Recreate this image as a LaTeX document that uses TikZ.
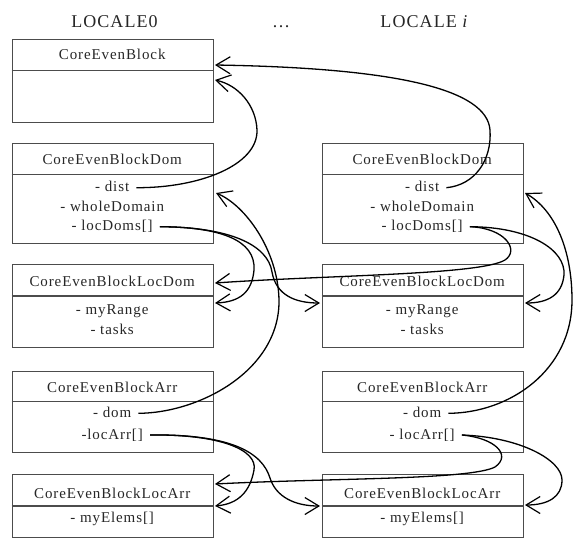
\documentclass[tikz,border=0pt]{standalone}
\usepackage{fontspec}
\setmainfont{Liberation Serif}[LetterSpace=6]
\usetikzlibrary{arrows.meta}
\begin{document}
\begin{tikzpicture}[x=1pt,y=-1pt,
  box/.style={draw=black!70, line width=1.1pt, minimum width=201pt, inner sep=0pt, anchor=north west},
  sep/.style={draw=black!70, line width=1.1pt},
  txt/.style={font=\fontsize{15}{18}\selectfont, text=black!85, inner xsep=7pt, inner ysep=0pt, text height=11pt, text depth=3pt},
  hdr/.style={font=\fontsize{18}{22}\selectfont, text=black!85, inner sep=0pt, anchor=base},
  conn/.style={draw=black, line width=1.3pt, -{Straight Barb[length=14pt,width=17pt,line width=1.2pt]}},
]
\useasboundingbox (0,0) rectangle (573,538);

% headers
\node[hdr] (h0) at (114.5,27.5) {LOCALE0};
\node[hdr] (hd) at (281,27.5) {\dots};
\node[hdr] (hi) at (424.5,27.5) {LOCALE \textit{i}};

% ---- boxes ----
\node[box, minimum height=83pt]   (blkL) at (11.7,39.3) {};
\node[box, minimum height=100pt]  (domL) at (11.7,143.3) {};
\node[box, minimum height=100pt]  (domR) at (321.7,143.3) {};
\node[box, minimum height=82.4pt] (ldmL) at (11.7,264.3) {};
\node[box, minimum height=82.4pt] (ldmR) at (321.7,264.3) {};
\node[box, minimum height=81pt]   (arrL) at (11.7,370.7) {};
\node[box, minimum height=81pt]   (arrR) at (321.7,370.7) {};
\node[box, minimum height=62.7pt] (larL) at (11.7,474) {};
\node[box, minimum height=62.7pt] (larR) at (321.7,474) {};

\draw[sep] (blkL.west |- 0,70.7) -- (blkL.east |- 0,70.7);
\draw[sep] (domL.west |- 0,174.3) -- (domL.east |- 0,174.3);
\draw[sep] (domR.west |- 0,174.3) -- (domR.east |- 0,174.3);
\draw[sep] (ldmL.west |- 0,296) -- (ldmL.east |- 0,296);
\draw[sep] (ldmR.west |- 0,296) -- (ldmR.east |- 0,296);
\draw[sep] (arrL.west |- 0,401.7) -- (arrL.east |- 0,401.7);
\draw[sep] (arrR.west |- 0,401.7) -- (arrR.east |- 0,401.7);
\draw[sep] (larL.west |- 0,506) -- (larL.east |- 0,506);
\draw[sep] (larR.west |- 0,506) -- (larR.east |- 0,506);

% ---- texts, left ----
\node[txt] (tblkL) at (112.2,55.5) {CoreEvenBlock};
\node[txt] (tdomL) at (112.2,160.5) {CoreEvenBlockDom};
\node[txt] (distL) at (112.2,187.7) {- dist};
\node[txt] (wdL)   at (112.2,207.5) {- wholeDomain};
\node[txt] (lcdL)  at (112.2,226.7) {- locDoms[]};
\node[txt] (tldmL) at (112.2,282) {CoreEvenBlockLocDom};
\node[txt] (mrL)   at (112.2,310) {- myRange};
\node[txt] (tkL)   at (112.2,330) {- tasks};
\node[txt] (tarrL) at (112.2,388) {CoreEvenBlockArr};
\node[txt] (domaL) at (112.2,413.3) {- dom};
\node[txt] (lcaL)  at (112.2,435) {-locArr[]};
\node[txt] (tlarL) at (112.2,494) {CoreEvenBlockLocArr};
\node[txt] (meL)   at (112.2,518.3) {- myElems[]};

% ---- texts, right ----
\node[txt] (tdomR) at (422.2,160.5) {CoreEvenBlockDom};
\node[txt] (distR) at (422.2,187.7) {- dist};
\node[txt] (wdR)   at (422.2,207.5) {- wholeDomain};
\node[txt] (lcdR)  at (422.2,226.7) {- locDoms[]};
\node[txt] (tldmR) at (422.2,282) {CoreEvenBlockLocDom};
\node[txt] (mrR)   at (422.2,310) {- myRange};
\node[txt] (tkR)   at (422.2,330) {- tasks};
\node[txt] (tarrR) at (422.2,388) {CoreEvenBlockArr};
\node[txt] (domaR) at (422.2,413.3) {- dom};
\node[txt] (lcaR)  at (422.2,435) {- locArr[]};
\node[txt] (tlarR) at (422.2,494) {CoreEvenBlockLocArr};
\node[txt] (meR)   at (422.2,518.3) {- myElems[]};

% ---- arrow targets ----
\coordinate (inBlkA) at (215,65);
\coordinate (inBlkB) at (215,80);
\coordinate (inDomL) at (216,193);
\coordinate (inDomR) at (525,193);
\coordinate (inLdmLa) at (215,283);
\coordinate (inLdmLb) at (215,303);
\coordinate (inLdmRa) at (320,303);
\coordinate (inLdmRb) at (525,303);
\coordinate (inLarLa) at (215,484);
\coordinate (inLarLb) at (215,506);
\coordinate (inLarRa) at (320,506);
\coordinate (inLarRb) at (525,505);

% ---- connectors ----
% left dist -> CoreEvenBlock
\draw[conn] (distL.east) .. controls (200,188) and (258,165) .. (257,130)
  .. controls (256,105) and (238,85) .. (inBlkB);
% right dist -> CoreEvenBlock
\draw[conn] (distR.east) .. controls (475,185) and (492,160) .. (490,130)
  .. controls (487,90) and (400,68) .. (inBlkA);
% left locDoms
\draw[conn] (lcdL.east) .. controls (220,227) and (256,240) .. (254,270)
  .. controls (252,292) and (240,302) .. (inLdmLb);
\draw[conn] (lcdL.east) .. controls (230,227) and (268,245) .. (272,272)
  .. controls (276,295) and (295,303) .. (inLdmRa);
% right locDoms
\draw[conn] (lcdR.east) .. controls (505,228) and (520,250) .. (505,260)
  .. controls (480,275) and (330,275) .. (inLdmLa);
\draw[conn] (lcdR.east) .. controls (530,227) and (566,250) .. (564,275)
  .. controls (562,295) and (548,303) .. (inLdmRb);
% dom -> Dom
\draw[conn] (domaL.east) .. controls (200,413) and (280,370) .. (279,300)
  .. controls (278,250) and (245,205) .. (inDomL);
\draw[conn] (domaR.east) .. controls (510,413) and (572,370) .. (572,300)
  .. controls (572,250) and (555,210) .. (inDomR);
% left locArr
\draw[conn] (lcaL.east) .. controls (220,434) and (258,450) .. (254,470)
  .. controls (250,492) and (238,504) .. (inLarLb);
\draw[conn] (lcaL.east) .. controls (230,434) and (262,452) .. (270,478)
  .. controls (276,497) and (295,506) .. (inLarRa);
% right locArr
\draw[conn] (lcaR.east) .. controls (495,438) and (512,455) .. (495,467)
  .. controls (470,480) and (330,478) .. (inLarLa);
\draw[conn] (lcaR.east) .. controls (520,437) and (562,460) .. (562,480)
  .. controls (562,497) and (548,505) .. (inLarRb);
\end{tikzpicture}
\end{document}
